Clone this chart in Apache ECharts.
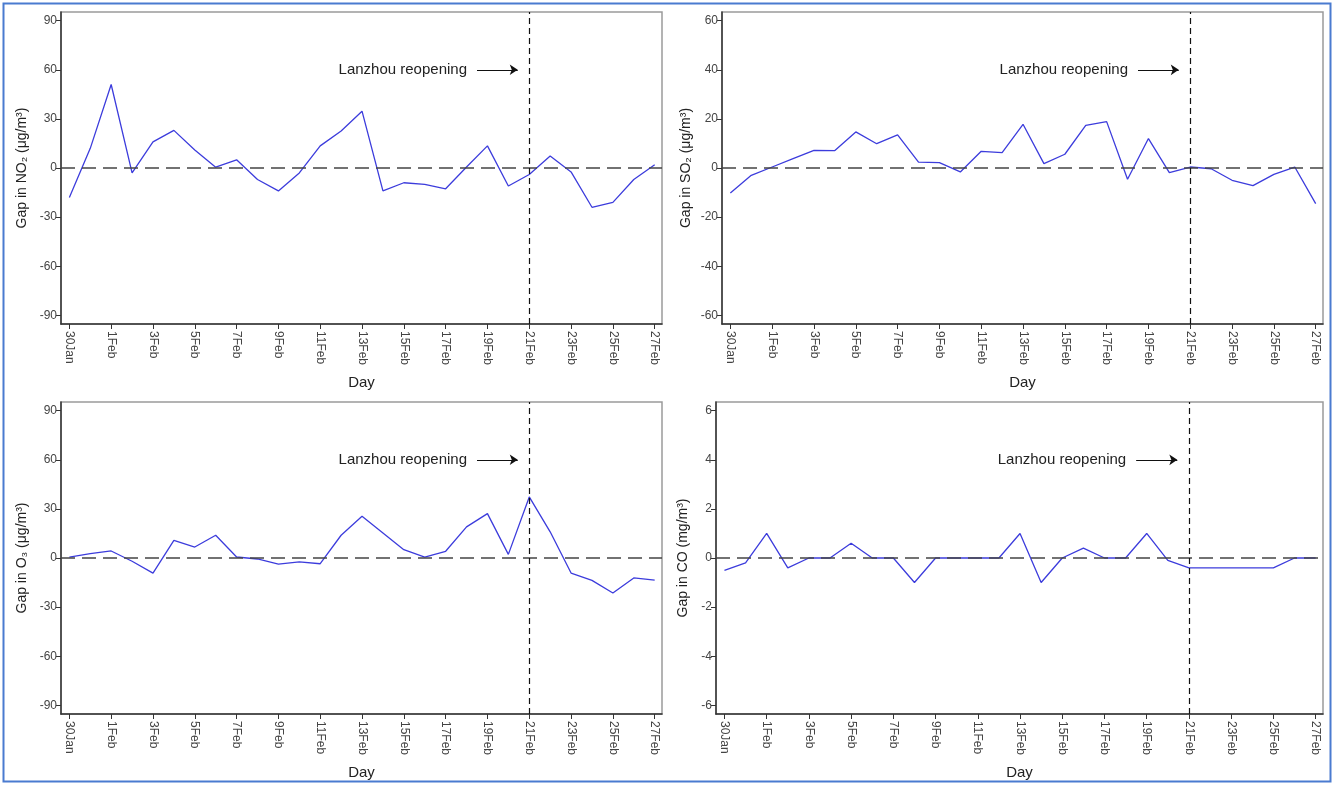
<!DOCTYPE html>
<html><head><meta charset="utf-8">
<script src="https://cdn.jsdelivr.net/npm/echarts@6/dist/echarts.min.js"></script>
<style>html,body{margin:0;padding:0;background:#fff}#c{width:1334px;height:785px}</style>
</head><body><div id="c"></div>
<script>
// ---- data ----
const days = ['30Jan','31Jan','1Feb','2Feb','3Feb','4Feb','5Feb','6Feb','7Feb','8Feb','9Feb','10Feb','11Feb','12Feb','13Feb','14Feb','15Feb','16Feb','17Feb','18Feb','19Feb','20Feb','21Feb','22Feb','23Feb','24Feb','25Feb','26Feb','27Feb'];
const xTickIdx = [0,2,4,6,8,10,12,14,16,18,20,22,24,26,28];
const no2 = [-18,12,51,-3,16,23,11,0.5,5,-7,-14,-3,13.5,22.6,34.7,-14,-9,-10,-12.7,0.6,13.5,-11,-4,7.3,-2.4,-24,-21,-7,2];
const so2 = [-10.2,-3,0.4,3.8,7.2,7.1,14.7,9.9,13.5,2.4,2.2,-1.6,6.8,6.3,17.8,1.8,5.6,17.4,18.9,-4.6,12,-1.9,0.4,-0.3,-5,-7.2,-2.6,0.4,-14.5];
const o3  = [0.6,2.7,4.3,-2,-9.2,10.8,6.7,13.9,0.6,-0.6,-3.7,-2.4,-3.5,13.9,25.5,15.3,5.1,0.6,4.1,19,27.1,2.2,37.3,16,-9.2,-13.7,-21.4,-12.2,-13.5];
const co  = [-0.5,-0.2,1.0,-0.4,0,0,0.6,0,0,-1.0,0,0,0,0,1.0,-1.0,0,0.4,0,0,1.0,-0.1,-0.4,-0.4,-0.4,-0.4,-0.4,0,0];
const ticksNO2 = [-90,-60,-30,0,30,60,90];
const ticksSO2 = [-60,-40,-20,0,20,40,60];
const ticksO3  = [-90,-60,-30,0,30,60,90];
const ticksCO  = [-6,-4,-2,0,2,4,6];
const reopenIdx = 22;
const annText = 'Lanzhou reopening';

// ---- layout / style ----
const FF = '"Liberation Sans Narrow","Arial Narrow","Liberation Sans",Arial,sans-serif';
const panels = [
  {yname:'Gap in NO\u2082 (\u03bcg/m\u00b3)', data:no2, ticks:ticksNO2, pad:5.3, annY:60, grid:{left:61,top:12,width:601,height:312}, nameGap:32},
  {yname:'Gap in SO\u2082 (\u03bcg/m\u00b3)', data:so2, ticks:ticksSO2, pad:3.55, annY:40, grid:{left:722,top:12,width:601,height:312}, nameGap:29},
  {yname:'Gap in O\u2083 (\u03bcg/m\u00b3)', data:o3, ticks:ticksO3, pad:5.3, annY:60, grid:{left:61,top:402,width:601,height:312}, nameGap:32},
  {yname:'Gap in CO (mg/m\u00b3)', data:co, ticks:ticksCO, pad:0.355, annY:4, grid:{left:716,top:402,width:607,height:312}, nameGap:26}
];

const grids=[], xAxes=[], yAxes=[], series=[];
panels.forEach((p,i)=>{
  grids.push(Object.assign({show:true, borderColor:'#9a9a9a', borderWidth:1.5, backgroundColor:'#fff'}, p.grid));
  xAxes.push({
    type:'value', gridIndex:i, min:-0.4, max:28.35,
    name:'Day', nameLocation:'middle', nameGap:51,
    nameTextStyle:{fontFamily:FF, fontSize:15, color:'#222'},
    axisLine:{show:true, onZero:false, lineStyle:{color:'#333', width:1.5}},
    axisTick:{show:true, length:5, lineStyle:{color:'#333'}, customValues:xTickIdx},
    axisLabel:{rotate:-90, fontFamily:FF, fontSize:12, color:'#444', margin:7, customValues:xTickIdx,
      formatter:v=>days[Math.round(v)]},
    splitLine:{show:false}
  });
  const lo = p.ticks[0], hi = p.ticks[p.ticks.length-1];
  yAxes.push({
    type:'value', gridIndex:i, min:lo-p.pad, max:hi+p.pad,
    name:p.yname, nameLocation:'middle', nameGap:p.nameGap,
    nameTextStyle:{fontFamily:FF, fontSize:14, color:'#222'},
    axisLine:{show:true, onZero:false, lineStyle:{color:'#333', width:1.5}},
    axisTick:{show:true, length:5, lineStyle:{color:'#333'}, customValues:p.ticks},
    axisLabel:{fontFamily:FF, fontSize:12, color:'#444', margin:4, customValues:p.ticks},
    splitLine:{show:false}
  });
  series.push({
    type:'line', xAxisIndex:i, yAxisIndex:i,
    data:p.data.map((v,k)=>[k,v]),
    showSymbol:false, symbol:'none',
    lineStyle:{color:'#3c3cdc', width:1.3},
    z:3,
    markLine:{
      silent:true, animation:false, symbol:'none',
      data:[
        {yAxis:0, lineStyle:{color:'#444', width:1.6, type:[14,7]}, label:{show:false}},
        {xAxis:reopenIdx, lineStyle:{color:'#111', width:1.2, type:[6,4]}, label:{show:false}},
        [
          {coord:[19.5,p.annY], symbol:'none'},
          {coord:[21.45,p.annY], symbol:'arrow', symbolSize:8}
        ]
      ],
      lineStyle:{color:'#111', width:1.2, type:'solid'},
      label:{show:true, position:'start', formatter:annText, fontFamily:FF, fontSize:15, color:'#222', distance:10}
    }
  });
});

const chart = echarts.init(document.getElementById('c'), null, {renderer:'canvas'});
chart.setOption({
  animation:false,
  backgroundColor:'#fff',
  grid:grids, xAxis:xAxes, yAxis:yAxes, series:series,
  graphic:[{type:'rect', shape:{x:3.5,y:3.5,width:1327,height:778}, style:{fill:'none', stroke:'#4a7bd0', lineWidth:2}, silent:true, z:-1}]
});
</script></body></html>
